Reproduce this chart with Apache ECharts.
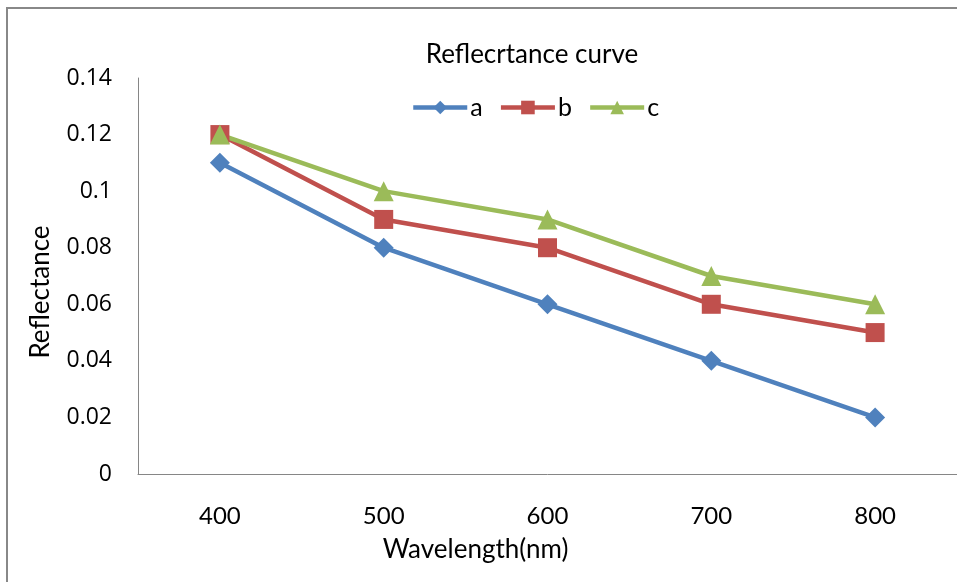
<!DOCTYPE html>
<html>
<head>
<meta charset="utf-8">
<script src="https://cdn.jsdelivr.net/npm/echarts@6/dist/echarts.min.js"></script>
<style>
  html, body { margin: 0; padding: 0; background: #fff; }
  #chart { width: 957px; height: 582px; }
</style>
</head>
<body>
<div id="chart"></div>
<script>
// wavelengths on the category axis
const wavelengths = ['400', '500', '600', '700', '800']
// reflectance of each sample
const seriesA = [0.11, 0.08, 0.06, 0.04, 0.02]
const seriesB = [0.12, 0.09, 0.08, 0.06, 0.05]
const seriesC = [0.12, 0.10, 0.09, 0.07, 0.06]

const colors = ['#4F81BD', '#C0504D', '#9BBB59']
const font = 'Lato, "Open Sans", sans-serif'
const tickFont = '"Open Sans", sans-serif'

const chart = echarts.init(document.getElementById('chart'))
chart.setOption({
  animation: false,
  color: colors,
  textStyle: { fontFamily: font },
  title: {
    text: 'Reflecrtance curve',
    left: 527,
    textAlign: 'center',
    top: 37,
    textStyle: { fontFamily: font, fontSize: 26, fontWeight: 'normal', color: '#000' },
  },
  legend: {
    top: 90,
    left: 406,
    itemWidth: 54,
    itemHeight: 17,
    itemGap: 16,
    lineStyle: { width: 4.5 },
    textStyle: { fontFamily: font, fontSize: 25, color: '#000', padding: [0, 0, 0, -2] },
    data: ['a', 'b', 'c'],
  },
  graphic: [
    {
      type: 'rect',
      shape: { x: 7, y: 8, width: 1000, height: 1000 },
      style: { fill: 'none', stroke: '#888', lineWidth: 2 },
      silent: true,
    },
  ],
  grid: { left: 138, top: 78, width: 826, height: 396, containLabel: false },
  xAxis: {
    type: 'category',
    data: wavelengths,
    boundaryGap: true,
    name: 'Wavelength(nm)',
    nameLocation: 'middle',
    nameGap: 63,
    nameTextStyle: { fontFamily: font, fontSize: 26, color: '#000', padding: [0, 144, 0, 0] },
    axisLine: { lineStyle: { color: '#868686', width: 1 } },
    axisTick: { show: false },
    axisLabel: { margin: 30, fontFamily: font, fontSize: 24, color: '#000' },
  },
  yAxis: {
    type: 'value',
    min: 0,
    max: 0.14,
    interval: 0.02,
    name: 'Reflectance',
    nameLocation: 'middle',
    nameGap: 84,
    nameTextStyle: { fontFamily: font, fontSize: 26, color: '#000', padding: [0, 32, 0, 0] },
    axisLine: { show: true, lineStyle: { color: '#868686', width: 1 } },
    axisTick: { show: false },
    splitLine: { show: false },
    axisLabel: {
      margin: 26,
      fontFamily: tickFont,
      fontSize: 23,
      color: '#000',
      formatter: (v) => String(Math.round(v * 100) / 100),
    },
  },
  series: [
    { name: 'a', type: 'line', data: seriesA, symbol: 'diamond', symbolSize: 20, lineStyle: { width: 4.5 } },
    { name: 'b', type: 'line', data: seriesB, symbol: 'rect', symbolSize: 19, lineStyle: { width: 4.5 } },
    { name: 'c', type: 'line', data: seriesC, symbol: 'triangle', symbolSize: 20, lineStyle: { width: 4.5 } },
  ],
})
</script>
</body>
</html>
